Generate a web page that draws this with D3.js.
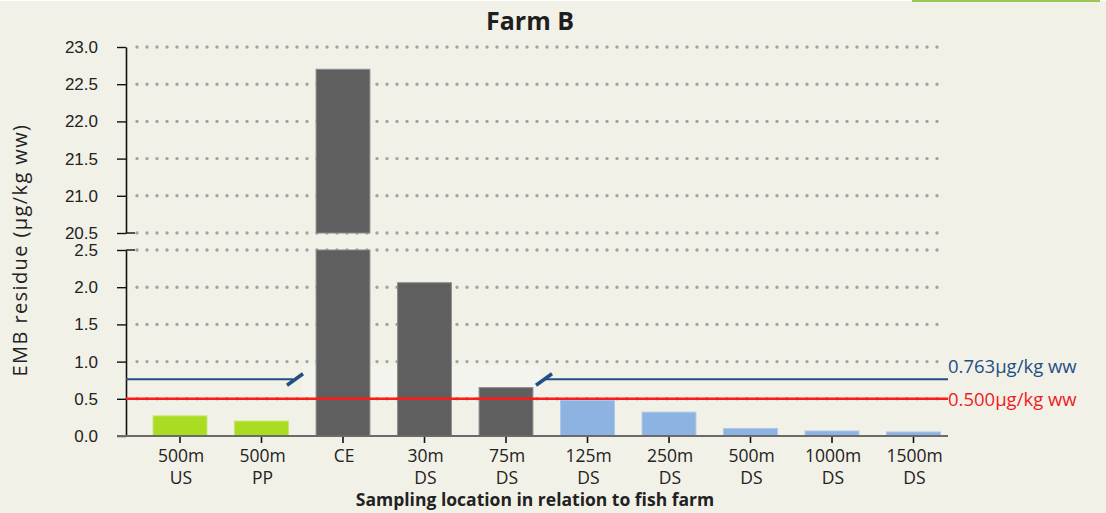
<!DOCTYPE html>
<html>
<head>
<meta charset="utf-8">
<script src="https://cdn.jsdelivr.net/npm/d3@7"></script>
<style>
  html, body { margin: 0; padding: 0; background: #f2f1e7; }
  svg { display: block; font-family: "Open Sans", "DejaVu Sans", sans-serif; }
</style>
</head>
<body>
<script>
// data
var categories = ["500m US", "500m PP", "CE", "30m DS", "75m DS", "125m DS", "250m DS", "500m DS", "1000m DS", "1500m DS"];
var labelTop = ["500m", "500m", "CE", "30m", "75m", "125m", "250m", "500m", "1000m", "1500m"];
var labelBottom = ["US", "PP", "", "DS", "DS", "DS", "DS", "DS", "DS", "DS"];
var residue = [0.27, 0.20, 22.7, 2.06, 0.65, 0.48, 0.32, 0.10, 0.067, 0.054];
var group = ["ref", "ref", "near", "near", "near", "far", "far", "far", "far", "far"];
var upperTicks = [20.5, 21.0, 21.5, 22.0, 22.5, 23.0];
var lowerTicks = [0.0, 0.5, 1.0, 1.5, 2.0, 2.5];
var limitBlue = 0.763, limitRed = 0.5;

var width = 1106, height = 513;
var axisX = 126, rightEnd = 948;

var color = d3.scaleOrdinal()
    .domain(["ref", "near", "far"])
    .range(["#aadd22", "#5f5f5f", "#8db3e3"]);
var edge = d3.scaleOrdinal()
    .domain(["ref", "near", "far"])
    .range(["#c2e760", "#8a8a8a", "#a9c6ea"]);

var x = d3.scaleBand().domain(categories).range([139.25, 954.25])
    .paddingInner(0.34).paddingOuter(0.17);
var yLow = d3.scaleLinear().domain([0, 2.5]).range([436, 250]);
var yHigh = d3.scaleLinear().domain([20.5, 23]).range([233, 47]);

var svg = d3.select("body").append("svg")
    .attr("width", width)
    .attr("height", height);

svg.append("rect").attr("width", width).attr("height", height).attr("fill", "#f2f1e7");
// thin top decorations
svg.append("rect").attr("width", width).attr("height", 1).attr("fill", "#ffffff");
svg.append("rect").attr("x", 912).attr("width", 188).attr("height", 2).attr("fill", "#9cc85a");

// title
svg.append("text")
    .attr("x", 530).attr("y", 30)
    .attr("text-anchor", "middle")
    .style("font-size", "25px").style("font-weight", "bold")
    .attr("fill", "#1e1e1e")
    .text("Farm B");

// gridlines (dotted)
var grid = svg.append("g");
grid.selectAll(".gu").data(upperTicks).enter().append("line")
    .attr("x1", 137).attr("x2", 943)
    .attr("y1", function(d) { return yHigh(d); })
    .attr("y2", function(d) { return yHigh(d); });
grid.selectAll(".gl").data(lowerTicks.filter(function(d) { return d > 0; })).enter().append("line")
    .attr("x1", 137).attr("x2", 943)
    .attr("y1", function(d) { return yLow(d); })
    .attr("y2", function(d) { return yLow(d); });
grid.selectAll("line")
    .attr("stroke", "#a2a2a2").attr("stroke-width", 3.4)
    .attr("stroke-linecap", "round").attr("stroke-dasharray", "0,10");

// light band where the blue line is broken
svg.append("rect")
    .attr("x", 303).attr("width", 237)
    .attr("y", yLow(0.95)).attr("height", yLow(0.53) - yLow(0.95))
    .attr("fill", "#f4f4ef");

// bars, lower panel
svg.selectAll(".bar-low").data(residue).enter().append("rect")
    .attr("class", "bar-low")
    .attr("x", function(d, i) { return x(categories[i]); })
    .attr("width", x.bandwidth())
    .attr("y", function(d) { return yLow(Math.min(d, 2.5)); })
    .attr("height", function(d) { return yLow(0) - yLow(Math.min(d, 2.5)); })
    .attr("fill", function(d, i) { return color(group[i]); })
    .attr("stroke", function(d, i) { return edge(group[i]); })
    .attr("stroke-width", 1);

// bars, upper panel (only values beyond the break)
var high = residue.map(function(d, i) { return {v: d, i: i}; }).filter(function(d) { return d.v > 20.5; });
svg.selectAll(".bar-high").data(high).enter().append("rect")
    .attr("class", "bar-high")
    .attr("x", function(d) { return x(categories[d.i]); })
    .attr("width", x.bandwidth())
    .attr("y", function(d) { return yHigh(d.v); })
    .attr("height", function(d) { return yHigh(20.5) - yHigh(d.v); })
    .attr("fill", function(d) { return color(group[d.i]); })
    .attr("stroke", function(d) { return edge(group[d.i]); })
    .attr("stroke-width", 1);

// y axes
var upperAxis = svg.append("g")
    .attr("transform", "translate(" + axisX + ",0)")
    .call(d3.axisLeft(yHigh).tickValues(upperTicks).tickSize(9).tickSizeOuter(0)
        .tickPadding(19).tickFormat(d3.format(".1f")));
var lowerAxis = svg.append("g")
    .attr("transform", "translate(" + axisX + ",0)")
    .call(d3.axisLeft(yLow).tickValues(lowerTicks).tickSize(9).tickSizeOuter(0)
        .tickPadding(19).tickFormat(d3.format(".1f")));
[upperAxis, lowerAxis].forEach(function(a) {
  a.select(".domain").attr("stroke", "#111").attr("stroke-width", 1.6);
  a.selectAll(".tick line").attr("stroke", "#111").attr("stroke-width", 1.4);
  a.selectAll(".tick text").attr("fill", "#222").style("font-size", "17px");
});
// break marks crossing the axis
svg.selectAll(".brk").data([yHigh(20.5), yLow(2.5)]).enter().append("line")
    .attr("x1", axisX).attr("x2", axisX + 9)
    .attr("y1", function(d) { return d; }).attr("y2", function(d) { return d; })
    .attr("stroke", "#111").attr("stroke-width", 1.4);

// baseline + x axis
var xAxis = svg.append("g")
    .attr("transform", "translate(0," + yLow(0) + ")")
    .call(d3.axisBottom(x).tickSize(7).tickSizeOuter(0).tickFormat(""));
xAxis.select(".domain").remove();
xAxis.selectAll(".tick line").attr("stroke", "#111").attr("stroke-width", 1.6);
svg.append("line")
    .attr("x1", axisX - 9).attr("x2", rightEnd)
    .attr("y1", yLow(0)).attr("y2", yLow(0))
    .attr("stroke", "#6a6a6a").attr("stroke-width", 2);

var xl = svg.append("g");
xl.selectAll(".xt").data(categories).enter().append("text")
    .attr("x", function(d) { return x(d) + x.bandwidth() / 2 + 1; })
    .attr("y", 462)
    .attr("text-anchor", "middle")
    .style("font-size", "17.5px").attr("fill", "#222")
    .text(function(d, i) { return labelTop[i]; });
xl.selectAll(".xb").data(categories).enter().append("text")
    .attr("x", function(d) { return x(d) + x.bandwidth() / 2 + 1; })
    .attr("y", 484)
    .attr("text-anchor", "middle")
    .style("font-size", "17.5px").attr("fill", "#222")
    .text(function(d, i) { return labelBottom[i]; });

// axis titles
svg.append("text")
    .attr("x", 535).attr("y", 506)
    .attr("text-anchor", "middle")
    .style("font-size", "17.5px").style("font-weight", "bold")
    .attr("fill", "#222")
    .text("Sampling location in relation to fish farm");
svg.append("text")
    .attr("transform", "translate(27,250) rotate(-90)")
    .attr("text-anchor", "middle")
    .style("font-size", "20px").style("letter-spacing", "1.4px")
    .attr("fill", "#222")
    .text("EMB residue (µg/kg ww)");

// blue limit line, broken around the tall bars
var yb = yLow(limitBlue);
svg.append("line")
    .attr("x1", axisX).attr("x2", 293).attr("y1", yb).attr("y2", yb)
    .attr("stroke", "#1f4f85").attr("stroke-width", 2);
svg.append("line")
    .attr("x1", 545).attr("x2", rightEnd).attr("y1", yb).attr("y2", yb)
    .attr("stroke", "#1f4f85").attr("stroke-width", 2);
svg.selectAll(".slash").data([[287, 303], [536, 552]]).enter().append("line")
    .attr("x1", function(d) { return d[0]; }).attr("x2", function(d) { return d[1]; })
    .attr("y1", yb + 6).attr("y2", yb - 5.5)
    .attr("stroke", "#1f4f85").attr("stroke-width", 3.5);

// red limit line
svg.append("line")
    .attr("x1", axisX).attr("x2", rightEnd)
    .attr("y1", yLow(limitRed)).attr("y2", yLow(limitRed))
    .attr("stroke", "#ff1a1a").attr("stroke-width", 2.5);

svg.append("text")
    .attr("x", rightEnd).attr("y", yb - 6)
    .style("font-size", "18.5px").attr("fill", "#1f4f85")
    .text("0.763µg/kg ww");
svg.append("text")
    .attr("x", rightEnd).attr("y", yLow(limitRed) + 7)
    .style("font-size", "18.5px").attr("fill", "#ee1c24")
    .text("0.500µg/kg ww");
</script>
</body>
</html>
